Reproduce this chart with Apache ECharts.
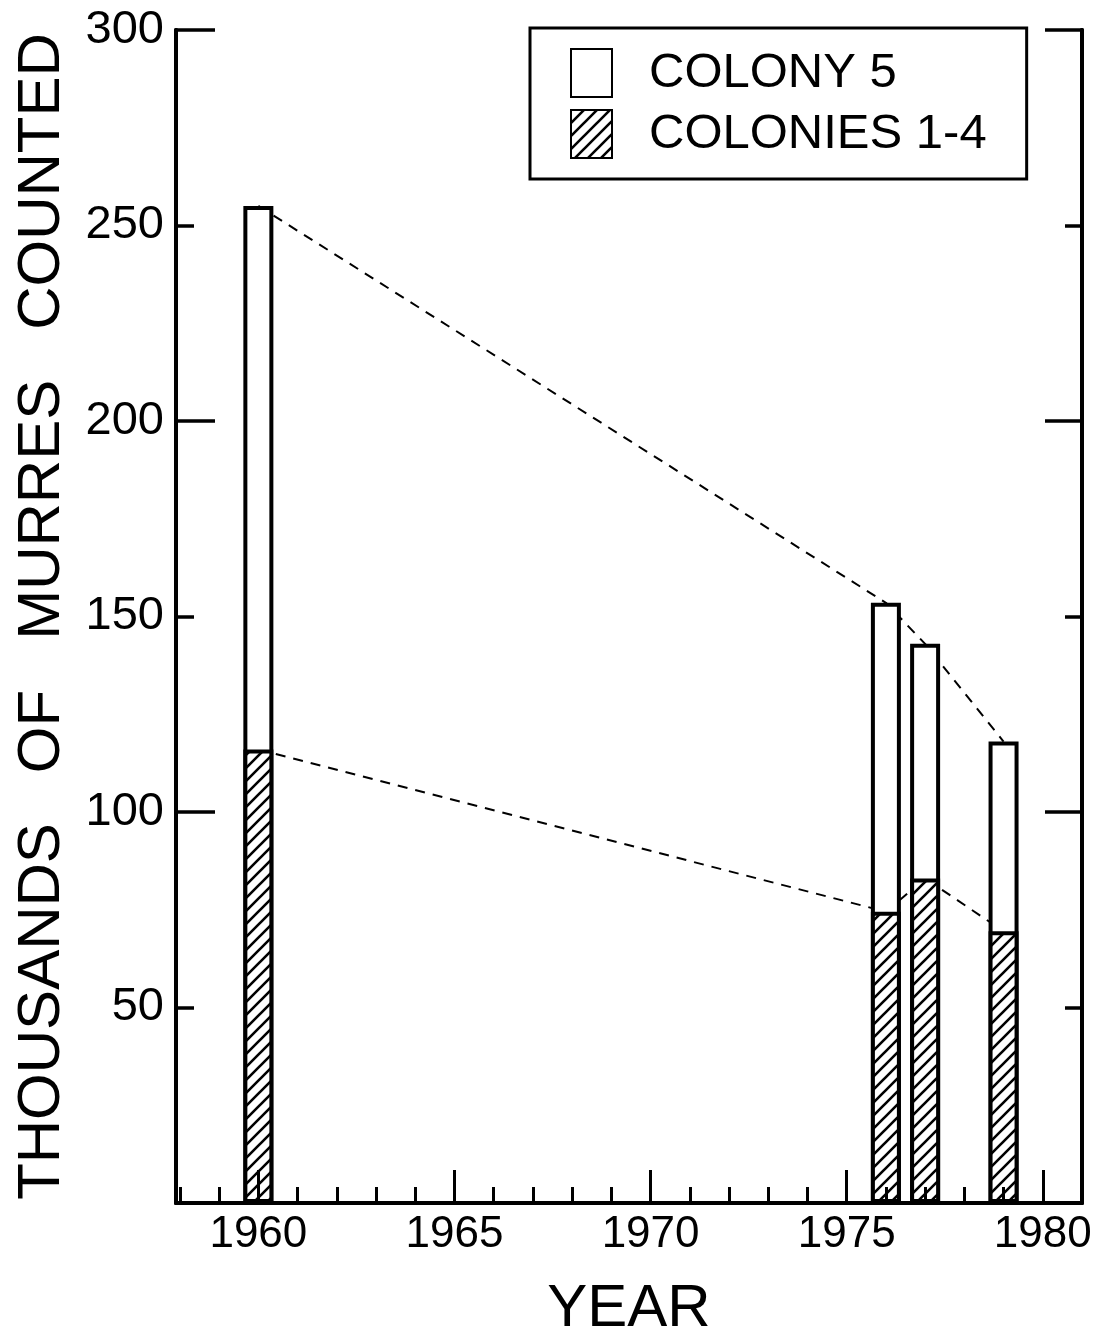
<!DOCTYPE html>
<html>
<head>
<meta charset="utf-8">
<script src="https://cdn.jsdelivr.net/npm/echarts@6/dist/echarts.min.js"></script>
<style>
  html, body { margin: 0; padding: 0; background: #fff; }
  #main { width: 1094px; height: 1336px; }
</style>
</head>
<body>
<div id="main"></div>
<script>
// counts (thousands of birds)
const years = [1960, 1976, 1977, 1979];
const colonyTotal = [255, 153.5, 143, 118];   // top of each bar (colony 5 + colonies 1-4)
const colonies14 = [116, 74.5, 83, 69.5];     // hatched part
const majorYears = [1960, 1965, 1970, 1975, 1980];
const minorYears = [1958, 1959, 1961, 1962, 1963, 1964, 1966, 1967, 1968, 1969,
    1971, 1972, 1973, 1974, 1976, 1977, 1978, 1979, 1981];

const FONT = '"Liberation Sans", Arial, sans-serif';

// diagonal hatch used for colonies 1-4
const makeHatch = () => {
    const c = document.createElement('canvas');
    c.width = 13;
    c.height = 13;
    const ctx = c.getContext('2d');
    ctx.fillStyle = '#fff';
    ctx.fillRect(0, 0, 13, 13);
    ctx.strokeStyle = '#000';
    ctx.lineWidth = 2.6;
    ctx.beginPath();
    ctx.moveTo(-2, 15); ctx.lineTo(15, -2);
    ctx.moveTo(-8, 8); ctx.lineTo(8, -8);
    ctx.moveTo(5, 21); ctx.lineTo(21, 5);
    ctx.stroke();
    return c;
};
const hatch = { image: makeHatch(), repeat: 'repeat' };

const pairs = (xs, ys) => xs.map((x, i) => [x, ys[i]]);

const chartDom = document.getElementById('main');
const myChart = echarts.init(chartDom);

const yBase = {
    type: 'value', min: 0, max: 300,
    splitLine: { show: false },
    axisLine: { show: true, lineStyle: { color: '#000', width: 4 } }
};

const option = {
    animation: false,
    backgroundColor: '#fff',
    grid: { left: 176, right: 12, top: 30, bottom: 133, containLabel: false, outerBoundsMode: 'none' },
    legend: {
        left: 530, top: 28,
        orient: 'vertical',
        icon: 'rect',
        itemWidth: 41, itemHeight: 48, itemGap: 11,
        padding: [20, 40, 20, 40],
        borderColor: '#000', borderWidth: 3,
        textStyle: { fontFamily: FONT, fontSize: 49, color: '#000', padding: [0, 0, 0, 32] },
        data: ['COLONY 5', 'COLONIES 1-4']
    },
    xAxis: [{
        type: 'value', min: 1957.9, max: 1981, z: 5,
        name: 'YEAR', nameLocation: 'middle', nameGap: 76,
        nameTextStyle: { fontFamily: FONT, fontSize: 60, color: '#000' },
        splitLine: { show: false },
        axisLine: { lineStyle: { color: '#000', width: 4 } },
        axisTick: { inside: true, length: 33, lineStyle: { color: '#000', width: 3 }, customValues: majorYears },
        axisLabel: {
            fontFamily: FONT, fontSize: 44, color: '#000', margin: 10,
            customValues: majorYears, formatter: (v) => String(v)
        }
    }, {
        type: 'value', min: 1957.9, max: 1981, position: 'bottom', z: 5,
        splitLine: { show: false },
        axisLine: { show: false },
        axisTick: { inside: true, length: 16, lineStyle: { color: '#000', width: 3 }, customValues: minorYears },
        axisLabel: { show: false }
    }],
    yAxis: [{
        ...yBase, position: 'left', interval: 50,
        name: 'THOUSANDS   OF   MURRES   COUNTED', nameLocation: 'middle', nameGap: 104,
        nameTextStyle: { fontFamily: FONT, fontSize: 60, color: '#000' },
        axisTick: { inside: true, length: 18, lineStyle: { color: '#000', width: 3.5 } },
        axisLabel: {
            fontFamily: FONT, fontSize: 47, color: '#000', margin: 12,
            formatter: (v) => (v === 0 ? '' : String(v))
        }
    }, {
        ...yBase, position: 'left', interval: 100,
        axisTick: { inside: true, length: 39, lineStyle: { color: '#000', width: 3.5 } },
        axisLabel: { show: false }
    }, {
        ...yBase, position: 'right', interval: 50,
        axisTick: { inside: true, length: 17, lineStyle: { color: '#000', width: 3.5 } },
        axisLabel: { show: false }
    }, {
        ...yBase, position: 'right', interval: 100,
        axisTick: { inside: true, length: 37, lineStyle: { color: '#000', width: 3.5 } },
        axisLabel: { show: false }
    }],
    series: [
        {
            name: 'top-line', type: 'line', z: 1, silent: true,
            data: pairs(years, colonyTotal), symbol: 'none',
            lineStyle: { color: '#000', width: 2, type: [10, 8] }
        },
        {
            name: 'bottom-line', type: 'line', z: 1, silent: true,
            data: pairs(years, colonies14), symbol: 'none',
            lineStyle: { color: '#000', width: 2, type: [10, 8] }
        },
        {
            name: 'COLONY 5', type: 'bar', barWidth: 30, barGap: '-100%', z: 2,
            data: pairs(years, colonyTotal),
            itemStyle: { color: '#fff', borderColor: '#000', borderWidth: 4 }
        },
        {
            name: 'COLONIES 1-4', type: 'bar', barWidth: 30, barGap: '-100%', z: 3,
            data: pairs(years, colonies14),
            itemStyle: { color: hatch, borderColor: '#000', borderWidth: 4 }
        }
    ]
};

myChart.setOption(option);
</script>
</body>
</html>
